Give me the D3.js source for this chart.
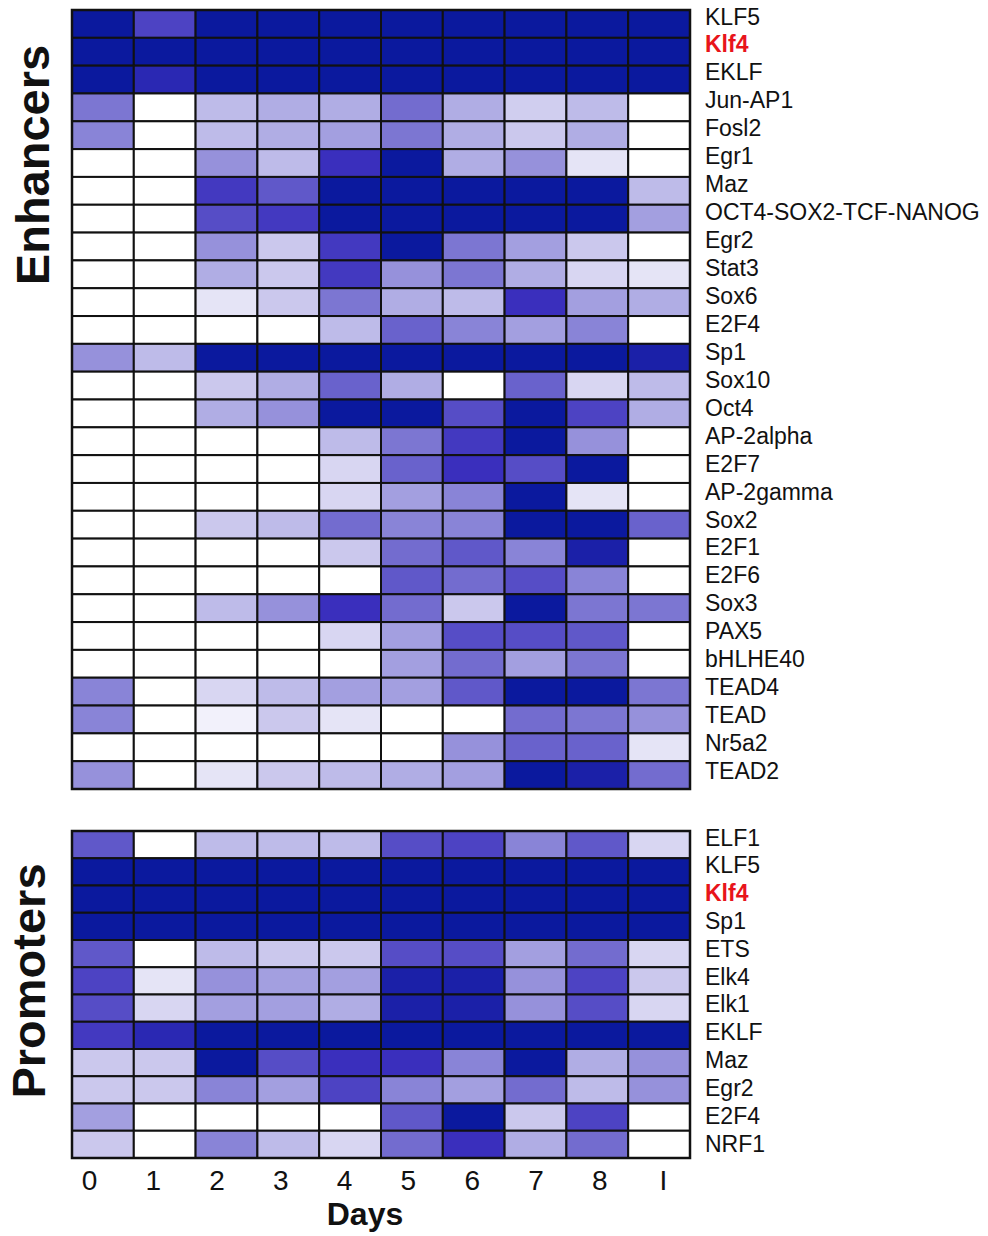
<!DOCTYPE html>
<html>
<head>
    <meta charset="UTF-8">
    <title>Motif enrichment by day</title>
    <script src="https://cdn.jsdelivr.net/npm/d3@7/dist/d3.min.js" charset="utf-8"></script>
    <style>
        body { margin: 0; background: #fff; }
        svg text { font-family: "Liberation Sans", Arial, Helvetica, sans-serif; }
    </style>
</head>
<body>

<svg id="chart" width="988" height="1236"></svg>

<script type="text/javascript">

// column labels (days, I = last column)
var days = ["0", "1", "2", "3", "4", "5", "6", "7", "8", "I"];

// enhancer motifs, top to bottom
var enhancerNames = ["KLF5", "Klf4", "EKLF", "Jun-AP1", "Fosl2", "Egr1", "Maz",
    "OCT4-SOX2-TCF-NANOG", "Egr2", "Stat3", "Sox6", "E2F4", "Sp1", "Sox10", "Oct4",
    "AP-2alpha", "E2F7", "AP-2gamma", "Sox2", "E2F1", "E2F6", "Sox3", "PAX5",
    "bHLHE40", "TEAD4", "TEAD", "Nr5a2", "TEAD2"];

// enrichment, 0 = white, 1 = darkest blue
var enhancerValues = [
    [1.00, 0.75, 1.00, 1.00, 1.00, 1.00, 1.00, 1.00, 1.00, 1.00],
    [1.00, 1.00, 1.00, 1.00, 1.00, 1.00, 1.00, 1.00, 1.00, 1.00],
    [1.00, 0.90, 1.00, 1.00, 1.00, 1.00, 1.00, 1.00, 1.00, 1.00],
    [0.50, 0.00, 0.25, 0.30, 0.30, 0.55, 0.30, 0.18, 0.25, 0.00],
    [0.45, 0.00, 0.25, 0.30, 0.35, 0.50, 0.30, 0.20, 0.30, 0.00],
    [0.00, 0.00, 0.40, 0.25, 0.85, 1.00, 0.30, 0.40, 0.10, 0.00],
    [0.00, 0.00, 0.80, 0.65, 1.00, 1.00, 1.00, 1.00, 1.00, 0.25],
    [0.00, 0.00, 0.70, 0.80, 1.00, 1.00, 1.00, 1.00, 1.00, 0.35],
    [0.00, 0.00, 0.40, 0.20, 0.80, 1.00, 0.50, 0.35, 0.20, 0.00],
    [0.00, 0.00, 0.30, 0.20, 0.80, 0.40, 0.50, 0.30, 0.15, 0.10],
    [0.00, 0.00, 0.10, 0.20, 0.50, 0.30, 0.25, 0.85, 0.35, 0.30],
    [0.00, 0.00, 0.00, 0.00, 0.25, 0.60, 0.45, 0.35, 0.45, 0.00],
    [0.40, 0.25, 1.00, 1.00, 1.00, 1.00, 1.00, 1.00, 1.00, 0.95],
    [0.00, 0.00, 0.20, 0.30, 0.60, 0.30, 0.00, 0.60, 0.15, 0.25],
    [0.00, 0.00, 0.30, 0.40, 1.00, 1.00, 0.70, 1.00, 0.75, 0.30],
    [0.00, 0.00, 0.00, 0.00, 0.25, 0.50, 0.80, 1.00, 0.40, 0.00],
    [0.00, 0.00, 0.00, 0.00, 0.15, 0.60, 0.85, 0.70, 1.00, 0.00],
    [0.00, 0.00, 0.00, 0.00, 0.15, 0.35, 0.45, 1.00, 0.10, 0.00],
    [0.00, 0.00, 0.20, 0.25, 0.55, 0.45, 0.45, 1.00, 1.00, 0.60],
    [0.00, 0.00, 0.00, 0.00, 0.20, 0.55, 0.65, 0.45, 0.95, 0.00],
    [0.00, 0.00, 0.00, 0.00, 0.00, 0.65, 0.55, 0.70, 0.45, 0.00],
    [0.00, 0.00, 0.25, 0.40, 0.85, 0.55, 0.20, 1.00, 0.50, 0.50],
    [0.00, 0.00, 0.00, 0.00, 0.15, 0.35, 0.70, 0.70, 0.65, 0.00],
    [0.00, 0.00, 0.00, 0.00, 0.00, 0.35, 0.55, 0.35, 0.50, 0.00],
    [0.45, 0.00, 0.15, 0.25, 0.35, 0.35, 0.65, 1.00, 1.00, 0.50],
    [0.45, 0.00, 0.05, 0.20, 0.10, 0.00, 0.00, 0.55, 0.50, 0.40],
    [0.00, 0.00, 0.00, 0.00, 0.00, 0.00, 0.40, 0.60, 0.60, 0.10],
    [0.40, 0.00, 0.10, 0.20, 0.25, 0.30, 0.35, 1.00, 0.95, 0.55]
];

// promoter motifs, top to bottom
var promoterNames = ["ELF1", "KLF5", "Klf4", "Sp1", "ETS", "Elk4", "Elk1", "EKLF",
    "Maz", "Egr2", "E2F4", "NRF1"];

var promoterValues = [
    [0.65, 0.00, 0.25, 0.25, 0.25, 0.70, 0.75, 0.45, 0.65, 0.15],
    [1.00, 1.00, 1.00, 1.00, 1.00, 1.00, 1.00, 1.00, 1.00, 1.00],
    [1.00, 1.00, 1.00, 1.00, 1.00, 1.00, 1.00, 1.00, 1.00, 1.00],
    [1.00, 1.00, 1.00, 1.00, 1.00, 1.00, 1.00, 1.00, 1.00, 1.00],
    [0.65, 0.00, 0.25, 0.20, 0.20, 0.70, 0.70, 0.35, 0.55, 0.15],
    [0.75, 0.10, 0.40, 0.35, 0.35, 0.95, 0.95, 0.40, 0.75, 0.20],
    [0.70, 0.15, 0.35, 0.35, 0.30, 0.95, 0.95, 0.40, 0.70, 0.15],
    [0.80, 0.90, 1.00, 1.00, 1.00, 1.00, 1.00, 1.00, 1.00, 1.00],
    [0.20, 0.20, 1.00, 0.70, 0.85, 0.85, 0.45, 1.00, 0.30, 0.40],
    [0.20, 0.20, 0.45, 0.35, 0.75, 0.45, 0.35, 0.55, 0.25, 0.40],
    [0.35, 0.00, 0.00, 0.00, 0.00, 0.65, 1.00, 0.20, 0.75, 0.00],
    [0.20, 0.00, 0.45, 0.25, 0.15, 0.55, 0.85, 0.30, 0.55, 0.00]
];

// names drawn in red
var highlighted = ["Klf4"];

var svg = d3.select("#chart");

// white -> lavender -> violet -> navy blue
var color = d3.scaleLinear()
    .domain([0, 0.5, 0.85, 1])
    .range(["#ffffff", "#7c76d2", "#3a2fbd", "#0b199e"])
    .clamp(true);

// shared columns for both panels
var x = d3.scaleBand().domain(days).range([72, 690]);

// draws one heatmap panel
// p: {names, values, top, bottom, labelTop, labelBottom, title, titleX, titleY}
function drawPanel(p) {
    var y = d3.scaleBand().domain(p.names).range([p.top, p.bottom]);
    // the labels are spaced a touch wider than the rows in the original
    var labelY = d3.scalePoint().domain(p.names).range([p.labelTop, p.labelBottom]);
    var g = svg.append("g");

    p.names.forEach(function(name, i) {
        g.selectAll(null)
            .data(p.values[i])
            .enter().append("rect")
            .attr("x", function(d, j) { return x(days[j]); })
            .attr("y", y(name))
            .attr("width", x.bandwidth())
            .attr("height", y.bandwidth())
            .attr("fill", function(d) { return color(d); })
            .attr("stroke", "#111")
            .attr("stroke-width", 2);
    });

    // outer frame
    g.append("rect")
        .attr("x", x.range()[0])
        .attr("y", p.top)
        .attr("width", x.range()[1] - x.range()[0])
        .attr("height", p.bottom - p.top)
        .attr("fill", "none")
        .attr("stroke", "#111")
        .attr("stroke-width", 2.5);

    // row labels on the right
    g.selectAll(".rowlabel")
        .data(p.names)
        .enter().append("text")
        .attr("class", "rowlabel")
        .attr("x", 705)
        .attr("y", function(d) { return labelY(d) + 8; })
        .attr("font-size", 23)
        .attr("font-weight", function(d) { return highlighted.indexOf(d) >= 0 ? "bold" : "normal"; })
        .attr("fill", function(d) { return highlighted.indexOf(d) >= 0 ? "#e8141b" : "#111"; })
        .text(function(d) { return d; });

    // panel title, rotated
    g.append("text")
        .attr("transform", "translate(" + p.titleX + "," + p.titleY + ") rotate(-90)")
        .attr("text-anchor", "middle")
        .attr("font-size", 47)
        .attr("font-weight", "bold")
        .attr("fill", "#111")
        .text(p.title);
}

drawPanel({
    names: enhancerNames, values: enhancerValues,
    top: 10, bottom: 789, labelTop: 16.5, labelBottom: 771,
    title: "Enhancers", titleX: 49, titleY: 165
});
drawPanel({
    names: promoterNames, values: promoterValues,
    top: 831, bottom: 1158, labelTop: 837.5, labelBottom: 1143.5,
    title: "Promoters", titleX: 45, titleY: 981
});

// day ticks sit a little left of the cell centres in the original
var tickX = d3.scalePoint().domain(days).range([89, 663]);
var axis = svg.append("g")
    .attr("transform", "translate(0,1190)")
    .call(d3.axisBottom(tickX).tickSize(0).tickPadding(0));
axis.select(".domain").remove();
axis.selectAll("text")
    .attr("font-size", 28)
    .attr("fill", "#111")
    .attr("font-family", "Liberation Sans, Arial, sans-serif")
    .attr("dy", "0");

svg.append("text")
    .attr("x", 365)
    .attr("y", 1225)
    .attr("text-anchor", "middle")
    .attr("font-size", 32)
    .attr("font-weight", "bold")
    .attr("fill", "#111")
    .text("Days");

</script>
</body>
</html>
